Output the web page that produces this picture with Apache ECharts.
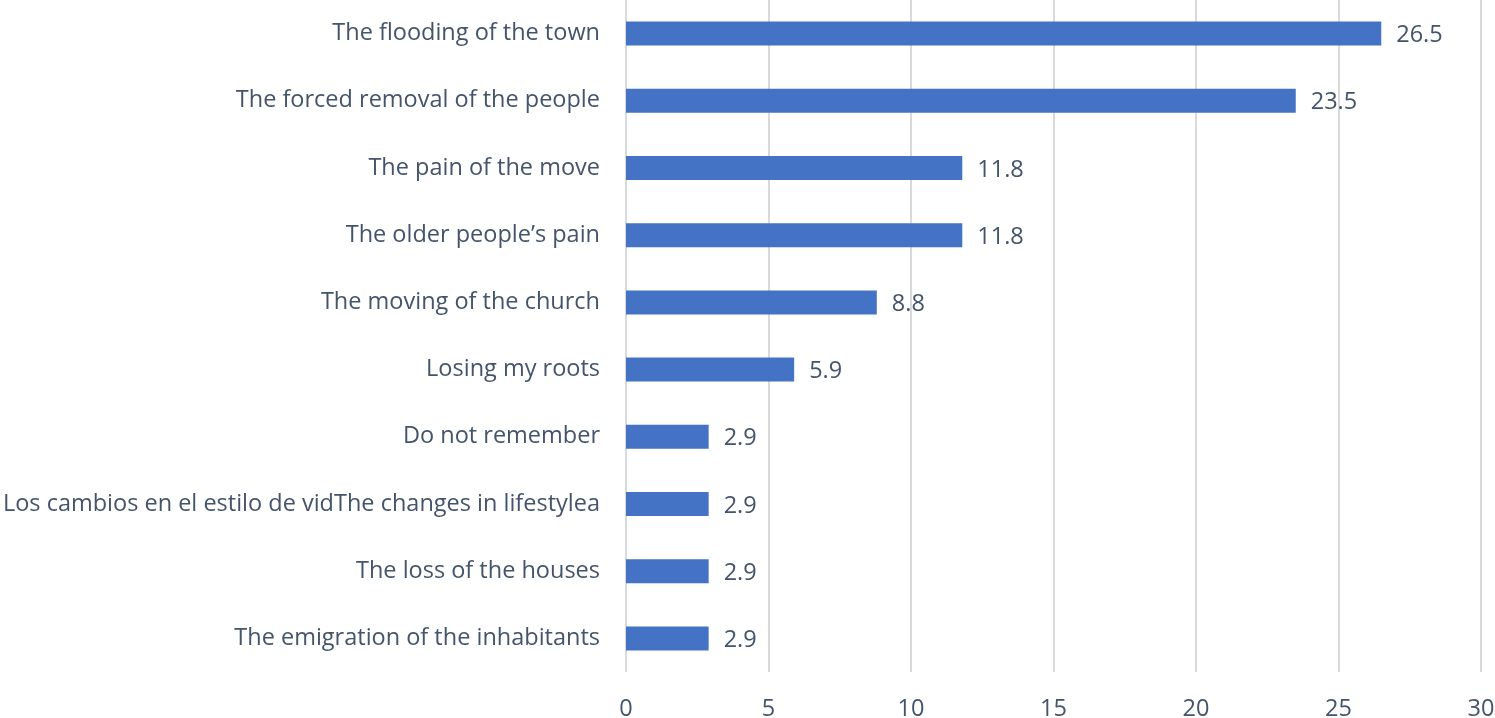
<!DOCTYPE html>
<html><head><meta charset="utf-8">
<script src="https://cdn.jsdelivr.net/npm/echarts@6/dist/echarts.min.js"></script>
<style>html,body{margin:0;padding:0;background:#fff}#c{width:1495px;height:718px}</style>
</head><body><div id="c"></div>
<script>
var categories = ["The flooding of the town","The forced removal of the people","The pain of the move","The older people\u2019s pain","The moving of the church","Losing my roots","Do not remember","Los cambios en el estilo de vidThe changes in lifestylea","The loss of the houses","The emigration of the inhabitants"];
var values = [26.5,23.5,11.8,11.8,8.8,5.9,2.9,2.9,2.9,2.9];
var xTicks = [0,5,10,15,20,25,30];
var font = "Open Sans";
var chart = echarts.init(document.getElementById('c'));
chart.setOption({
  animation:false,
  grid:{left:626,right:14,top:0,bottom:46,containLabel:false,outerBoundsMode:'none'},
  xAxis:{type:'value',min:0,max:30,interval:5,
    axisLine:{show:false},axisTick:{show:false},
    splitLine:{lineStyle:{color:'#d9d9d9',width:2}},
    axisLabel:{color:'#44546a',fontSize:23.5,fontFamily:font,margin:25,
      formatter:function(v){return xTicks.indexOf(v)>=0?String(v):'';}}},
  yAxis:{type:'category',data:categories,inverse:true,
    axisLine:{show:false},axisTick:{show:false},
    axisLabel:{color:'#44546a',fontSize:23.5,fontFamily:font,margin:26,lineHeight:30,verticalAlign:'middle'}},
  series:[{type:'bar',data:values,barWidth:24,itemStyle:{color:'#4472c4'},
    label:{show:true,position:'right',distance:15,offset:[0,2],color:'#44546a',fontSize:23.5,fontFamily:font,
      formatter:function(p){return p.value.toFixed(1);}}}]
});
</script></body></html>
